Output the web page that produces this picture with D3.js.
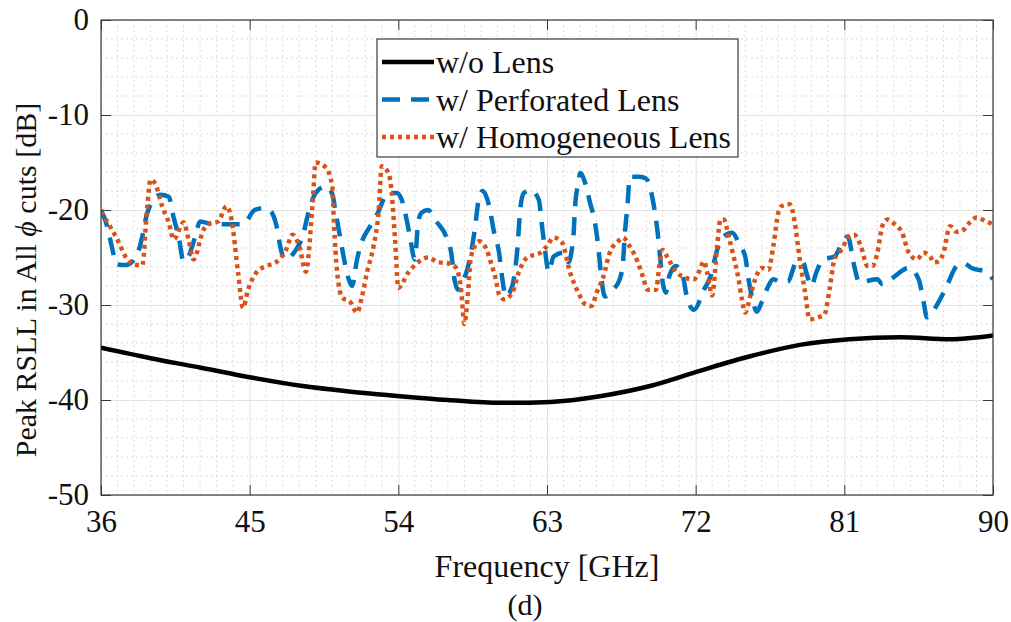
<!DOCTYPE html>
<html>
<head>
<meta charset="utf-8">
<title>Peak RSLL</title>
<script src="https://cdn.jsdelivr.net/npm/d3@7"></script>
<style>
  body { margin: 0; background: #fff; }
  text { font-family: "Liberation Serif", "Times New Roman", serif; fill: #111; }
</style>
</head>
<body>
<svg id="chart" width="1011" height="622"></svg>
<script>
// x ticks / y ticks
var xTicks = [36, 45, 54, 63, 72, 81, 90];
var yTicks = [0, -10, -20, -30, -40, -50];

// w/o Lens
var refFreq = [36, 39, 42.05, 45, 48.1, 51, 54.1, 57, 60.2, 63.2, 66.2, 69.3, 72.3, 75.3, 78.3, 81.3, 84.4, 87.4, 90];
var refVal  = [-34.5, -35.6, -36.6, -37.6, -38.5, -39.1, -39.6, -40.0, -40.3, -40.2, -39.6, -38.5, -36.9, -35.4, -34.2, -33.6, -33.4, -33.6, -33.2];

// w/ Perforated Lens
var perfFreq = [36.0, 36.3, 36.7, 36.9, 37.5, 38.1, 38.5, 38.7, 39.2, 39.6, 40.1, 40.4, 40.7, 41.0, 41.3, 41.7, 42.0, 42.8, 43.4, 44.6,
  45.3, 45.8, 46.2, 46.6, 46.9, 47.1, 47.8, 48.2, 48.6, 49.0, 49.6, 50.0, 50.2, 50.5, 50.8, 51.0, 51.2, 51.5, 51.8, 52.3,
  52.7, 53.4, 53.9, 54.2, 54.5, 54.7, 55.0, 55.2, 55.4, 55.8, 56.3, 56.9, 57.2, 57.4, 57.6, 57.9, 58.2, 58.6, 58.9, 59.1,
  59.5, 59.8, 60.1, 60.3, 60.5, 60.9, 61.2, 61.4, 61.6, 62.0, 62.5, 62.7, 62.9, 63.1, 63.4, 64.0, 64.3, 64.5, 64.6, 64.7,
  64.9, 65.0, 65.3, 65.6, 65.9, 66.1, 66.3, 66.5, 67.0, 67.4, 67.6, 67.7, 67.9, 68.0, 68.6, 69.0, 69.4, 69.7, 69.9, 70.0,
  70.2, 70.4, 70.8, 71.2, 71.5, 71.9, 72.5, 72.9, 73.3, 73.7, 74.2, 74.7, 75.0, 75.2, 75.4, 75.7, 76.0, 76.4, 76.7, 77.2,
  77.6, 78.1, 78.5, 78.7, 79.0, 79.3, 79.7, 80.4, 80.9, 81.2, 81.6, 81.9, 83.0, 83.3, 83.8, 84.9, 85.5, 85.8, 86.0, 86.7,
  87.2, 87.8, 88.2, 88.7, 89.7, 90.0];
var perfVal = [-20.0, -21.3, -24.2, -25.7, -25.8, -25.0, -22.8, -21.0, -18.9, -18.4, -18.6, -20.8, -22.8, -25.4, -24.9, -22.8, -21.2, -21.5, -21.5, -21.5,
  -20.0, -19.8, -20.0, -21.5, -24.2, -25.2, -24.2, -22.8, -20.0, -18.2, -17.5, -18.3, -20.2, -23.1, -25.9, -27.3, -28.0, -25.2, -23.3, -21.7,
  -20.5, -18.2, -18.2, -18.9, -21.0, -22.8, -25.2, -21.3, -20.3, -20.0, -21.2, -22.8, -24.5, -27.3, -28.4, -27.5, -26.1, -22.4, -18.6, -18.0,
  -19.6, -22.4, -24.5, -27.3, -29.1, -28.0, -24.2, -19.6, -18.2, -17.9, -18.9, -21.7, -24.5, -26.5, -24.9, -24.5, -25.5, -24.2, -22.8, -19.6,
  -17.1, -16.1, -17.1, -19.2, -21.3, -23.8, -27.3, -29.1, -28.4, -27.3, -25.5, -22.8, -18.9, -16.5, -16.5, -16.7, -18.9, -22.4, -25.9, -27.6,
  -28.7, -27.0, -25.9, -26.8, -29.4, -30.5, -28.4, -27.0, -24.2, -22.8, -22.4, -23.8, -24.9, -27.3, -29.1, -30.7, -29.7, -28.0, -27.3, -27.6,
  -27.5, -25.5, -25.5, -26.6, -28.0, -26.6, -25.2, -24.9, -23.4, -22.8, -25.9, -27.6, -27.3, -27.8, -27.3, -26.1, -27.3, -29.7, -31.3, -29.7,
  -28.0, -25.9, -25.6, -26.1, -26.6, -27.3];

// w/ Homogeneous Lens
var homoFreq = [36.0, 36.9, 37.6, 38.1, 38.5, 38.8, 39.0, 39.3, 39.7, 40.1, 40.4, 41.0, 41.3, 41.6, 42.2, 42.5, 43.1, 43.6, 43.9, 44.3,
  44.6, 44.9, 45.4, 46.0, 46.6, 47.2, 47.6, 48.0, 48.4, 48.8, 49.0, 49.6, 50.0, 50.1, 50.3, 50.6, 51.1, 51.5, 51.8, 52.1,
  52.5, 52.8, 53.0, 53.4, 53.6, 53.8, 54.0, 54.6, 55.2, 55.8, 56.4, 57.0, 57.5, 57.8, 58.0, 58.2, 58.4, 58.9, 59.3, 59.6,
  59.9, 60.1, 60.4, 60.9, 61.3, 61.8, 62.6, 63.0, 63.4, 63.9, 64.4, 64.9, 65.3, 65.7, 66.0, 66.4, 66.8, 67.3, 67.6, 68.0,
  68.5, 68.8, 69.1, 69.6, 69.8, 70.0, 70.3, 70.8, 71.2, 71.9, 72.2, 72.5, 72.7, 73.0, 73.3, 73.5, 73.7, 74.0, 74.3, 74.6,
  74.8, 75.0, 75.3, 75.6, 76.0, 76.4, 76.7, 77.0, 77.2, 77.7, 78.0, 78.3, 78.6, 78.9, 79.4, 79.8, 80.1, 80.4, 80.9, 81.2,
  81.6, 82.0, 82.4, 82.7, 83.0, 83.3, 83.6, 83.9, 84.5, 84.9, 85.4, 85.8, 86.2, 86.4, 86.7, 87.0, 87.4, 87.8, 88.2, 88.6,
  89.0, 89.6, 90.0];
var homoVal = [-20.2, -22.8, -25.2, -25.8, -25.8, -19.6, -16.8, -17.3, -19.6, -21.3, -23.1, -21.3, -23.1, -25.2, -22.1, -21.5, -21.2, -19.6, -21.0, -26.6,
  -30.3, -28.4, -26.6, -25.9, -25.5, -24.2, -22.6, -23.8, -26.5, -19.6, -15.0, -15.5, -17.5, -21.3, -26.6, -29.2, -29.7, -30.8, -29.1, -26.6,
  -23.8, -20.3, -15.4, -16.1, -18.2, -23.1, -28.2, -26.6, -25.5, -25.0, -25.5, -25.6, -26.1, -28.4, -32.0, -29.1, -24.9, -23.3, -24.0, -25.5,
  -27.3, -28.9, -29.4, -28.7, -26.5, -25.0, -24.5, -23.8, -22.9, -23.4, -26.6, -28.7, -29.9, -30.1, -28.7, -27.1, -24.5, -23.3, -22.9, -23.8,
  -25.5, -27.0, -28.4, -28.4, -25.9, -24.2, -25.0, -26.5, -27.0, -27.3, -26.5, -25.4, -26.6, -29.0, -23.8, -21.0, -21.0, -22.8, -24.9, -27.3,
  -29.4, -30.8, -29.1, -27.3, -26.1, -26.3, -23.8, -20.3, -19.6, -19.4, -21.3, -25.2, -28.4, -31.5, -31.3, -31.0, -28.4, -25.2, -24.0, -22.9,
  -22.6, -23.8, -25.9, -25.9, -24.5, -21.7, -21.0, -21.3, -22.4, -24.5, -25.2, -24.5, -24.9, -25.5, -25.4, -24.5, -21.7, -22.3, -22.1, -21.3,
  -20.8, -21.2, -21.5];

var series = [
  { name: "w/o Lens", f: refFreq, v: refVal, color: "#000000", dash: null, cap: "round" },
  { name: "w/ Perforated Lens", f: perfFreq, v: perfVal, color: "#0072BD", dash: "18,11", cap: "butt" },
  { name: "w/ Homogeneous Lens", f: homoFreq, v: homoVal, color: "#D95319", dash: "4,4", cap: "butt" }
];

var plotL = 101, plotR = 993, plotT = 20, plotB = 495;
var fs = 31;

var svg = d3.select("#chart");

var x = d3.scaleLinear().domain([36, 90]).range([plotL, plotR]);
var y = d3.scaleLinear().domain([-50, 0]).range([plotB, plotT]);

svg.append("rect").attr("x", plotL).attr("y", plotT)
  .attr("width", plotR - plotL).attr("height", plotB - plotT).attr("fill", "#fff");

// minor grid
var g = svg.append("g");
g.selectAll(".mx").data(d3.range(37, 90).filter(d => (d - 36) % 9 !== 0))
  .join("line")
  .attr("x1", d => x(d)).attr("x2", d => x(d)).attr("y1", plotT).attr("y2", plotB)
  .attr("stroke", "#dcdcdc").attr("stroke-width", 1).attr("stroke-dasharray", "2,3");
g.selectAll(".my").data(d3.range(-48, 0, 2).filter(d => d % 10 !== 0))
  .join("line")
  .attr("y1", d => y(d)).attr("y2", d => y(d)).attr("x1", plotL).attr("x2", plotR)
  .attr("stroke", "#dcdcdc").attr("stroke-width", 1).attr("stroke-dasharray", "2,3");

// major grid
svg.append("g").attr("transform", `translate(0,${plotB})`)
  .call(d3.axisBottom(x).tickValues(xTicks).tickSize(-(plotB - plotT)).tickFormat(""))
  .call(a => a.select(".domain").remove())
  .call(a => a.selectAll(".tick line").attr("stroke", "#e3e3e3"));
svg.append("g").attr("transform", `translate(${plotL},0)`)
  .call(d3.axisLeft(y).tickValues(yTicks).tickSize(-(plotR - plotL)).tickFormat(""))
  .call(a => a.select(".domain").remove())
  .call(a => a.selectAll(".tick line").attr("stroke", "#e3e3e3"));

svg.append("clipPath").attr("id", "clip").append("rect")
  .attr("x", plotL).attr("y", plotT).attr("width", plotR - plotL).attr("height", plotB - plotT);

var line = d3.line().x(d => x(d[0])).y(d => y(d[1])).curve(d3.curveMonotoneX);

svg.append("g").attr("clip-path", "url(#clip)")
  .selectAll("path").data(series).join("path")
  .attr("d", s => line(s.f.map((f, i) => [f, s.v[i]])))
  .attr("fill", "none")
  .attr("stroke", s => s.color)
  .attr("stroke-width", 4.5)
  .attr("stroke-linecap", s => s.cap)
  .attr("stroke-linejoin", "round")
  .attr("stroke-dasharray", s => s.dash);

// axes (box, inward ticks)
var axCol = "#3a3a3a";
function styleAxis(a) {
  a.select(".domain").remove();
  a.selectAll(".tick line").attr("stroke", axCol);
  a.selectAll(".tick text").attr("font-size", fs).attr("font-family", "Liberation Serif, Times New Roman, serif").attr("fill", "#111");
}
svg.append("g").attr("transform", `translate(0,${plotB})`)
  .call(d3.axisBottom(x).tickValues(xTicks).tickSize(-10).tickPadding(15).tickFormat(d => String(d)))
  .call(styleAxis);
svg.append("g").attr("transform", `translate(0,${plotT})`)
  .call(d3.axisTop(x).tickValues(xTicks).tickSize(-10).tickFormat(""))
  .call(styleAxis);
svg.append("g").attr("transform", `translate(${plotL},0)`)
  .call(d3.axisLeft(y).tickValues(yTicks).tickSize(-10).tickPadding(12).tickFormat(d => String(d)))
  .call(styleAxis);
svg.append("g").attr("transform", `translate(${plotR},0)`)
  .call(d3.axisRight(y).tickValues(yTicks).tickSize(-10).tickFormat(""))
  .call(styleAxis);
svg.append("rect").attr("x", plotL).attr("y", plotT)
  .attr("width", plotR - plotL).attr("height", plotB - plotT)
  .attr("fill", "none").attr("stroke", axCol).attr("stroke-width", 1.2);

// axis titles
svg.append("text").attr("x", (plotL + plotR) / 2).attr("y", 566)
  .attr("text-anchor", "middle").attr("dominant-baseline", "central")
  .attr("font-size", fs + 1).text("Frequency [GHz]");

var yl = svg.append("text").attr("transform", "translate(25,280) rotate(-90)")
  .attr("text-anchor", "middle").attr("dominant-baseline", "central")
  .attr("font-size", fs - 1);
yl.append("tspan").text("Peak RSLL in All ");
yl.append("tspan").attr("font-style", "italic").text("ϕ");
yl.append("tspan").text(" cuts [dB]");

svg.append("text").attr("x", 525).attr("y", 604)
  .attr("text-anchor", "middle").attr("dominant-baseline", "central")
  .attr("font-size", fs - 1).text("(d)");

// legend
var lg = svg.append("g");
lg.append("rect").attr("x", 377).attr("y", 39).attr("width", 361).attr("height", 118)
  .attr("fill", "#fff").attr("stroke", axCol).attr("stroke-width", 1.2);
var item = lg.selectAll(".item").data(series).join("g")
  .attr("transform", (d, i) => `translate(0,${62 + i * 37.5})`);
item.append("line").attr("x1", 382).attr("x2", 434)
  .attr("stroke", d => d.color).attr("stroke-width", 4.5)
  .attr("stroke-dasharray", d => d.dash);
item.append("text").attr("x", 436).attr("dominant-baseline", "central")
  .attr("font-size", fs + 1).text(d => d.name);
</script>
</body>
</html>
